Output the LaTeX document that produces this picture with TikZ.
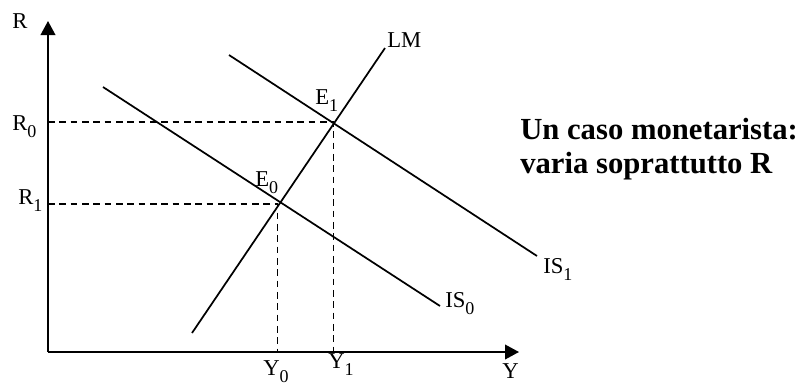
\documentclass[tikz,border=0pt]{standalone}
\usepackage{fontspec}
\setmainfont{Liberation Serif}
\usetikzlibrary{arrows.meta,positioning}
\newcommand\idx[1]{\raisebox{-5.5pt}{\fontsize{13.5}{14}\selectfont #1}}

\begin{document}
\begin{tikzpicture}[x=.75pt,y=-.75pt,font=\fontsize{17}{20}\selectfont,
axis/.style={-{Triangle[length=10.5pt,width=11pt]},line width=1.3pt},
curve/.style={line width=1.3pt},
guide/.style={dashed,dash pattern=on 5pt off 3.5pt,line width=1.2pt},
lbl/.style={inner sep=0pt,anchor=base west}]
\useasboundingbox(0,0)rectangle(807,387);

% assi
\coordinate(O)at(48,352);
\coordinate(Rtop)at(48,21);
\coordinate(Yend)at(519,352);
\draw[axis](O)--(Rtop);
\draw[axis](O)--(Yend);
\node[lbl](R)at(12,28){R};
\node[lbl](Y)at(502,378){Y};

% curve
\coordinate(LMa)at(192,333);
\coordinate(LMb)at(385,48);
\coordinate(ISa0)at(103,87);
\coordinate(ISb0)at(440,306);
\coordinate(ISa1)at(229,55);
\coordinate(ISb1)at(537,256);
\draw[curve](LMa)--(LMb);
\draw[curve](ISa0)--(ISb0);
\draw[curve](ISa1)--(ISb1);
\node[lbl](LM)at(387,47){LM};
\node[lbl](IS0)at(445,307){IS\idx{0}};
\node[lbl](IS1)at(543,273){IS\idx{1}};

% equilibri
\coordinate(E0)at(277.5,204);
\coordinate(E1)at(333.5,122);
\node[lbl](lE0)at(255,186){E\idx{0}};
\node[lbl](lE1)at(315,104){E\idx{1}};
\coordinate(R0)at(48,122);
\coordinate(R1)at(48,204);
\coordinate(Y0)at(277.5,352);
\coordinate(Y1)at(333.5,352);
\draw[guide](R0)--(E1)--(Y1);
\draw[guide](R1)--(E0)--(Y0);
\node[lbl](lR0)at(12,130){R\idx{0}};
\node[lbl](lR1)at(18,204){R\idx{1}};
\node[lbl](lY0)at(263,375){Y\idx{0}};
\node[lbl](lY1)at(328,368){Y\idx{1}};

\node[lbl,align=left,font=\fontsize{23}{25.5}\selectfont\bfseries](note)at(520,173){Un caso monetarista:\\varia soprattutto R};
\end{tikzpicture}
\end{document}
